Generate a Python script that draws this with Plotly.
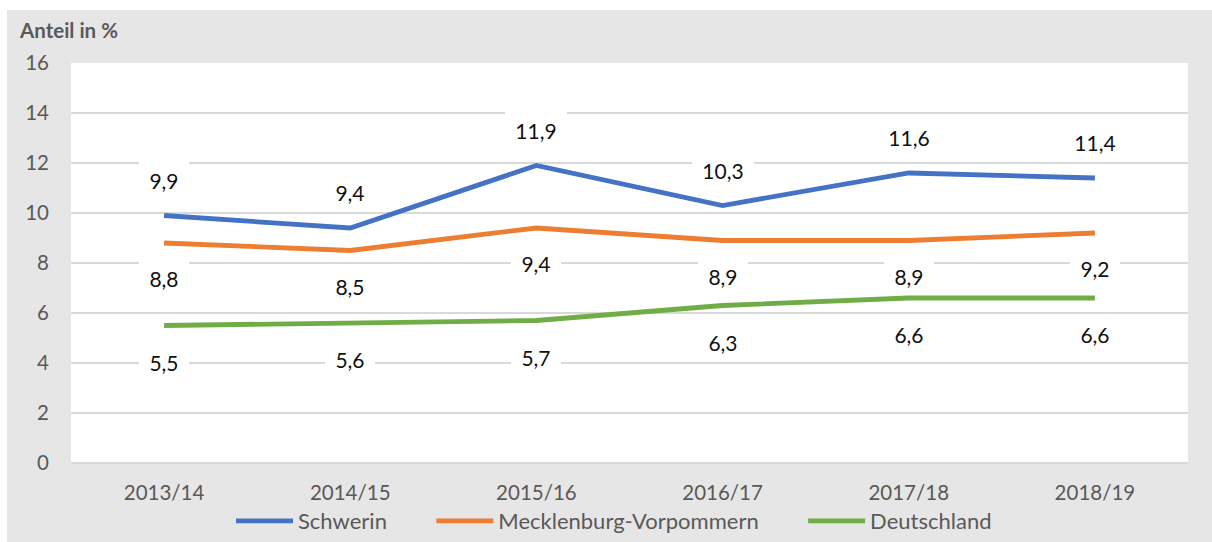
import plotly.graph_objects as go

years = ["2013/14", "2014/15", "2015/16", "2016/17", "2017/18", "2018/19"]
schwerin = [9.9, 9.4, 11.9, 10.3, 11.6, 11.4]
mv = [8.8, 8.5, 9.4, 8.9, 8.9, 9.2]
deutschland = [5.5, 5.6, 5.7, 6.3, 6.6, 6.6]
y_ticks = [0, 2, 4, 6, 8, 10, 12, 14, 16]

NB = "\u00a0"
series = [
    ("Schwerin", schwerin, "#4472C4", 36, NB * 7),
    ("Mecklenburg-Vorpommern", mv, "#ED7D31", -35, NB * 7),
    ("Deutschland", deutschland, "#70AD47", -36, ""),
]

FONT = "Lato"
W, H = 1212, 542
L, R, T, B = 71, 24, 63, 79
pw, ph = W - L - R, H - T - B

fig = go.Figure()
annotations = []
for name, vals, color, shift, pad in series:
    fig.add_trace(go.Scatter(
        x=years, y=vals, name=name + pad, mode="lines",
        line=dict(color=color, width=4.8),
        hoverinfo="skip",
    ))
    for xv, yv in zip(years, vals):
        txt = f"{yv:.1f}".replace(".", ",")
        annotations.append(dict(
            x=xv, y=yv, xref="x", yref="y",
            text=txt, showarrow=False, yshift=shift,
            bgcolor="white", borderpad=0, borderwidth=0,
            width=20 + 12 * (len(txt) - 1) + 6, height=36,
            font=dict(family=FONT, size=21, color="#111111"),
        ))

annotations.append(dict(
    x=(17 - L) / pw, y=(H - B - 30) / ph, xref="paper", yref="paper",
    xanchor="left", yanchor="middle", showarrow=False,
    text="<b>Anteil in %</b>",
    font=dict(family=FONT, size=20.5, color="#595959"),
))

shapes = [
    dict(type="rect", xref="paper", yref="paper", layer="below",
         x0=(7 - L) / pw, x1=1 + (R + 5) / pw,
         y0=-(B + 5) / ph, y1=1 + (T - 10) / ph,
         fillcolor="#e7e6e6", line=dict(width=0)),
    dict(type="rect", xref="paper", yref="paper", layer="below",
         x0=0, x1=1, y0=0, y1=1,
         fillcolor="white", line=dict(width=0)),
]

fig.update_layout(
    width=W, height=H,
    margin=dict(l=L, r=R, t=T, b=B, autoexpand=False),
    paper_bgcolor="white", plot_bgcolor="white",
    font=dict(family=FONT, size=20, color="#595959"),
    showlegend=True,
    legend=dict(
        orientation="h", x=(614 - L) / pw, xanchor="center",
        y=-(521 - (H - B)) / ph, yanchor="middle",
        font=dict(family=FONT, size=22, color="#595959"),
        bgcolor="rgba(0,0,0,0)", itemwidth=57,
    ),
    annotations=annotations,
    shapes=shapes,
    xaxis=dict(
        type="category", range=[-0.5, 5.5], showgrid=False,
        showline=False, zeroline=False, ticks="", automargin=False,
        tickfont=dict(family=FONT, size=20.5, color="#595959"),
        ticklabelstandoff=15,
    ),
    yaxis=dict(
        range=[0, 16], tickvals=y_ticks, ticktext=[str(v) for v in y_ticks],
        showgrid=True, gridcolor="#d9d9d9", gridwidth=1.5,
        zeroline=True, zerolinecolor="#d9d9d9", zerolinewidth=1.5,
        showline=False, ticks="", automargin=False,
        tickfont=dict(family=FONT, size=20.5, color="#595959"),
        ticklabelstandoff=21,
    ),
)

fig.write_html(
    "out.html",
    config={"displayModeBar": False},
    post_script="document.body.style.margin='0';",
)
